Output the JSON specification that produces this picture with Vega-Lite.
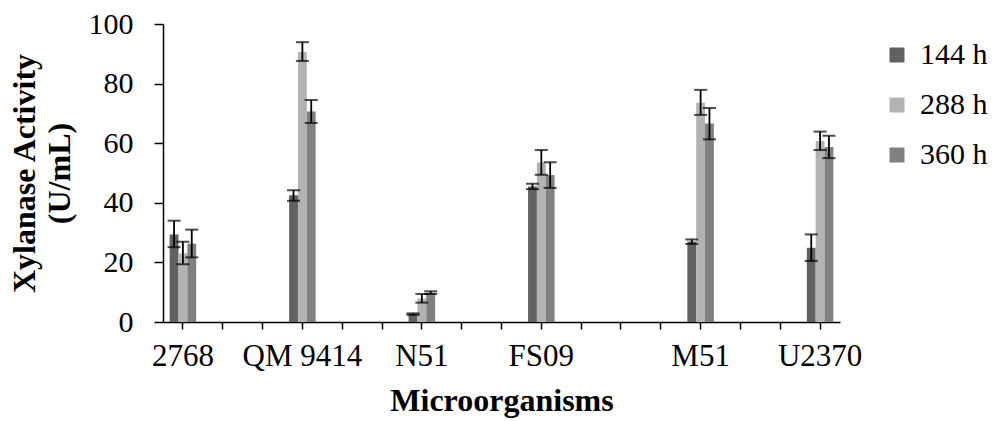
{
  "$schema": "https://vega.github.io/schema/vega-lite/v6.json",
  "width": 677,
  "height": 298,
  "autosize": "none",
  "padding": {"left": 163, "top": 24, "right": 155, "bottom": 99},
  "background": "white",
  "config": {
    "view": {"stroke": null},
    "font": "Liberation Serif",
    "axis": {"labelFont": "Liberation Serif", "titleFont": "Liberation Serif", "labelColor": "#000", "titleColor": "#000", "domainColor": "#000", "tickColor": "#000", "domainWidth": 1.5, "tickWidth": 1.5, "grid": false}
  },
  "data": {
    "values": [
      {"organism": "2768", "time": "144 h", "value": 29.4, "lo": 25.1, "hi": 34.0},
      {"organism": "2768", "time": "288 h", "value": 23.0, "lo": 19.4, "hi": 26.9},
      {"organism": "2768", "time": "360 h", "value": 26.3, "lo": 21.7, "hi": 31.0},
      {"organism": "QM 9414", "time": "144 h", "value": 42.5, "lo": 40.7, "hi": 44.2},
      {"organism": "QM 9414", "time": "288 h", "value": 90.6, "lo": 87.6, "hi": 93.9},
      {"organism": "QM 9414", "time": "360 h", "value": 70.6, "lo": 66.8, "hi": 74.5},
      {"organism": "N51", "time": "144 h", "value": 2.7, "lo": 2.4, "hi": 2.9},
      {"organism": "N51", "time": "288 h", "value": 7.9, "lo": 6.5, "hi": 9.4},
      {"organism": "N51", "time": "360 h", "value": 9.8, "lo": 9.4, "hi": 10.3},
      {"organism": "FS09", "time": "144 h", "value": 45.5, "lo": 44.6, "hi": 46.4},
      {"organism": "FS09", "time": "288 h", "value": 53.5, "lo": 49.4, "hi": 57.7},
      {"organism": "FS09", "time": "360 h", "value": 49.3, "lo": 45.0, "hi": 53.6},
      {"organism": "M51", "time": "144 h", "value": 27.0, "lo": 26.2, "hi": 27.7},
      {"organism": "M51", "time": "288 h", "value": 73.6, "lo": 69.5, "hi": 77.9},
      {"organism": "M51", "time": "360 h", "value": 66.6, "lo": 61.3, "hi": 71.8},
      {"organism": "U2370", "time": "144 h", "value": 24.9, "lo": 20.5, "hi": 29.4},
      {"organism": "U2370", "time": "288 h", "value": 60.7, "lo": 57.7, "hi": 63.9},
      {"organism": "U2370", "time": "360 h", "value": 58.7, "lo": 55.0, "hi": 62.5}
    ]
  },
  "encoding": {
    "x": {
      "field": "organism",
      "type": "nominal",
      "sort": null,
      "scale": {
        "domain": ["2768", "_1", "_2", "QM 9414", "_3", "_4", "N51", "_5", "_6", "FS09", "_7", "_8", "_9", "M51", "_10", "_11", "U2370"],
        "paddingInner": 0,
        "paddingOuter": 0
      },
      "axis": {
        "title": "Microorganisms",
        "titleFontSize": 32,
        "titleFontWeight": "bold",
        "titlePadding": 14,
        "labelFontSize": 31,
        "labelAngle": 0,
        "labelPadding": 12,
        "tickSize": 7,
        "labelExpr": "indexof(datum.value, '_') == 0 ? '' : datum.value"
      }
    },
    "xOffset": {
      "field": "time",
      "type": "nominal",
      "scale": {"domain": ["144 h", "288 h", "360 h"], "paddingInner": 0, "paddingOuter": 0.75}
    }
  },
  "layer": [
    {
      "mark": {"type": "bar"},
      "encoding": {
        "y": {
          "field": "value",
          "type": "quantitative",
          "scale": {"domain": [0, 100], "nice": false},
          "axis": {
            "title": ["Xylanase Activity", "(U/mL)"],
            "titleFontSize": 32,
            "titleFontWeight": "bold",
            "titleLineHeight": 35,
            "titlePadding": 12,
            "labelFontSize": 30,
            "labelPadding": 21,
            "tickSize": 9,
            "values": [0, 20, 40, 60, 80, 100]
          }
        },
        "color": {
          "field": "time",
          "type": "nominal",
          "scale": {"domain": ["144 h", "288 h", "360 h"], "range": ["#616161", "#b3b3b3", "#808080"]},
          "legend": {
            "title": null,
            "orient": "none",
            "legendX": 719,
            "legendY": 16,
            "padding": 0,
            "symbolType": "square",
            "symbolSize": 225,
            "symbolStrokeWidth": 0,
            "labelFont": "Liberation Serif",
            "labelFontSize": 30,
            "labelColor": "#000",
            "labelOffset": 8,
            "rowPadding": 20
          }
        }
      }
    },
    {
      "mark": {"type": "rule", "color": "#000", "strokeWidth": 1.8},
      "encoding": {
        "y": {"field": "lo", "type": "quantitative"},
        "y2": {"field": "hi"}
      }
    },
    {
      "mark": {"type": "tick", "color": "#000", "thickness": 2, "size": 13},
      "encoding": {"y": {"field": "lo", "type": "quantitative"}}
    },
    {
      "mark": {"type": "tick", "color": "#000", "thickness": 2, "size": 13},
      "encoding": {"y": {"field": "hi", "type": "quantitative"}}
    }
  ]
}
